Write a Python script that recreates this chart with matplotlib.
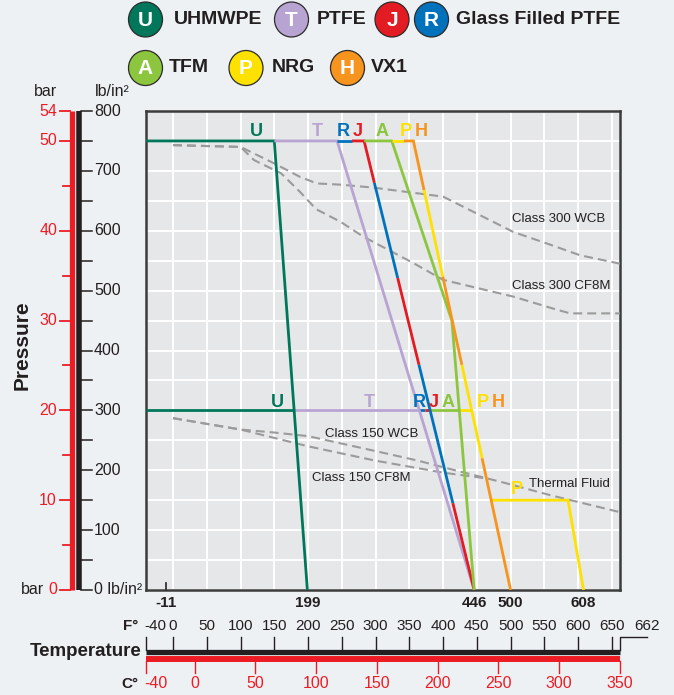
import numpy as np
import matplotlib
matplotlib.use('Agg')
import matplotlib.pyplot as plt
import matplotlib.transforms as mtransforms
from matplotlib.patches import Ellipse

plt.rcParams['font.family'] = ['Liberation Sans', 'DejaVu Sans']

# colours
c_U = '#00775a'
c_T = '#b8a4d2'
c_J = '#e31b23'
c_R = '#0072bc'
c_A = '#8cc63f'
c_P = '#ffe100'
c_H = '#f7941d'
grey = '#9b9b9b'
ink = '#231f20'
red = '#ed1c24'

# seat ratings, deg F / psi  (start, knee, ..., zero pressure)
U_F = [-40, 150, 199];       U_P = [750, 750, 0]
T_F = [150, 243, 446];       T_P = [750, 750, 0]
RJ_F = [243, 283, 446];      RJ_P = [750, 750, 0]
A_F = [283, 324, 413, 446];  A_P = [750, 750, 450, 0]
PH_F = [324, 356, 500];      PH_P = [750, 750, 0]
Pth_F = [471, 585, 608];     Pth_P = [150, 150, 0]   # NRG thermal fluid
low_psi = 300                                       # class 150 seat level

# colour changes on the shared R/J and P/H lines
RJ_fcut = 265; RJ_pcuts = [680, 521, 376, 145]
PH_fcut = 342; PH_pcuts = [668, 523, 376, 220]

# body ratings (dashed)
c300_wcb_F = [0, 100, 149, 188, 213, 248, 297, 400, 504, 553, 603, 662]
c300_wcb_P = [743, 740, 713, 690, 679, 677, 672, 657, 598, 579, 559, 545]
c300_cf8m_F = [0, 100, 120, 160, 188, 212, 248, 282, 356, 400, 504, 563, 588, 662]
c300_cf8m_P = [743, 740, 718, 696, 665, 636, 615, 590, 546, 518, 490, 470, 462, 462]
c150_wcb_F = [0, 100, 150, 200, 300, 363, 400, 491, 560, 662]
c150_wcb_P = [287, 268, 263, 257, 232, 216, 205, 179, 158, 130]
c150_cf8m_F = [0, 100, 150, 200, 300, 400, 460]
c150_cf8m_P = [287, 268, 254, 240, 216, 196, 187]

# scales
psi_ticks = list(range(0, 801, 50))
bar_ticks = list(range(0, 51, 5))
F_ticks = [-40] + list(range(0, 651, 50))
C_ticks = [-40] + list(range(0, 351, 50))
x_marks = [-11, 199, 446, 500, 608]

W, H = 674, 695
fig = plt.figure(figsize=(W / 100, H / 100), dpi=100)
fig.patch.set_facecolor('#edf1f4')

ax = fig.add_axes([146 / W, (H - 590) / H, 474 / W, 479 / H])
ax.set_facecolor('#e6e7e8')
ax.set_xlim(-40, 662)
ax.set_ylim(0, 800)
ax.set_xticks(range(0, 651, 50))
ax.set_yticks(psi_ticks)
ax.tick_params(which='major', length=0, labelbottom=False, labelleft=False)
ax.grid(which='major', color='white', lw=1.4)
ax.set_axisbelow(True)
for s in ax.spines.values():
    s.set_color('#3c3c3c')
    s.set_linewidth(1.8)

LW = 2.0
kw = dict(lw=LW, solid_capstyle='butt', solid_joinstyle='miter', zorder=4)

# dashed body ratings
dkw = dict(color=grey, lw=1.5, ls=(0, (4.3, 2.4)), zorder=3)
ax.plot(c300_wcb_F, c300_wcb_P, **dkw)
ax.plot(c300_cf8m_F, c300_cf8m_P, **dkw)
ax.plot(c150_wcb_F, c150_wcb_P, **dkw)
ax.plot(c150_cf8m_F, c150_cf8m_P, **dkw)


def cross(F, P, p):
    # temperature where the falling leg of a rating line meets pressure p
    return np.interp(p, P[1:][::-1], F[1:][::-1])


def two_tone(F, P, f_cut, p_cuts, c1, c2):
    start, knee, end = F
    x_at = lambda p: np.interp(p, [0, P[1]], [end, knee])
    ax.plot([start, f_cut], [P[0], P[0]], color=c1, **kw)
    levels = [P[1]] + p_cuts + [0]
    cols = [c2, c1]
    for i in range(len(levels) - 1):
        xs = [x_at(levels[i]), x_at(levels[i + 1])]
        ys = [levels[i], levels[i + 1]]
        if i == 0:
            xs = [f_cut] + xs
            ys = [P[0]] + ys
        ax.plot(xs, ys, color=cols[i % 2], **kw)


# class 150 seat level (300 psi) horizontal pieces
xU = cross(U_F, U_P, low_psi)
xT = cross(T_F, T_P, low_psi)
xRJ = cross(RJ_F, RJ_P, low_psi)
xA = cross(A_F, A_P, low_psi)
xPH = cross(PH_F, PH_P, low_psi)
xmid = (xT + xRJ) / 2
for a, b, c in [(-40, xU, c_U), (xU, xT, c_T), (xT, xmid, c_R), (xmid, xRJ, c_J),
                (xRJ, xA, c_A), (xA, xPH, c_P)]:
    ax.plot([a, b], [low_psi, low_psi], color=c, **kw)

ax.plot(U_F, U_P, color=c_U, **kw)
ax.plot(T_F, T_P, color=c_T, **kw)
two_tone(RJ_F, RJ_P, RJ_fcut, RJ_pcuts, c_R, c_J)
ax.plot(A_F, A_P, color=c_A, **kw)
ax.plot(Pth_F, Pth_P, color=c_P, **kw)
two_tone(PH_F, PH_P, PH_fcut, PH_pcuts, c_P, c_H)

# material letters
lk = dict(fontsize=13, fontweight='bold', ha='center', va='center', zorder=5)
for x, t, c in [(124, 'U', c_U), (213, 'T', c_T), (252, 'R', c_R), (274, 'J', c_J),
                (310, 'A', c_A), (345, 'P', c_P), (367, 'H', c_H)]:
    ax.text(x, 766, t, color=c, **lk)
for x, t, c in [(155, 'U', c_U), (290, 'T', c_T), (365, 'R', c_R), (386, 'J', c_J),
                (408, 'A', c_A), (459, 'P', c_P), (481, 'H', c_H)]:
    ax.text(x, 313, t, color=c, **lk)
ax.text(509, 168, 'P', color=c_P, **lk)

tk = dict(fontsize=9.5, color=ink, ha='left', va='center', zorder=5)
ax.text(502, 620, 'Class 300 WCB', **tk)
ax.text(502, 508, 'Class 300 CF8M', **tk)
ax.text(225, 260, 'Class 150 WCB', **tk)
ax.text(206, 187, 'Class 150 CF8M', **tk)
ax.text(527, 177, 'Thermal Fluid', **tk)

# overlay in pixel coordinates for scales and legend
ov = fig.add_axes([0, 0, 1, 1])
ov.set_xlim(0, W)
ov.set_ylim(H, 0)
ov.axis('off')
ty = mtransforms.blended_transform_factory(ov.transData, ax.transData)
tx = mtransforms.blended_transform_factory(ax.transData, ov.transData)

# marked temperatures under the chart
ov.plot([x_marks[0], x_marks[0]], [583, 590], transform=tx, color='#333333', lw=1.3)
for f in x_marks:
    ov.text(f, 603, str(f), transform=tx, fontsize=11, fontweight='bold', color=ink,
            ha='center', va='center')

# pressure scales
ov.plot([71.5, 71.5], [0, 800], transform=ty, color=red, lw=3.8, solid_capstyle='butt')
ov.plot([79, 79], [0, 800], transform=ty, color=ink, lw=4, solid_capstyle='butt')
for p in psi_ticks:
    ov.plot([81, 91.5], [p, p], transform=ty, color=ink, lw=1.1)
    if p % 100 == 0 and p > 0:
        ov.text(94, p, str(p), transform=ty, fontsize=11.5, color=ink, ha='left', va='center')
ov.text(94, 0, '0 lb/in²', transform=ty, fontsize=11.5, color=ink, ha='left', va='center')
for b in bar_ticks:
    x0 = 60 if b % 10 == 0 else 63
    ov.plot([x0, 70], [b * 15, b * 15], transform=ty, color=red, lw=1.3)
    if b % 10 == 0:
        ov.text(57, b * 15, str(b), transform=ty, fontsize=11.5, color=red, ha='right', va='center')
ov.plot([60, 70], [800, 800], transform=ty, color=red, lw=1.3)
ov.text(57, 800, '54', transform=ty, fontsize=11.5, color=red, ha='right', va='center')
ov.text(44, 0, 'bar', transform=ty, fontsize=11.5, color=ink, ha='right', va='center')
ov.text(45, 91, 'bar', fontsize=11.5, color=ink, ha='center', va='center')
ov.text(95, 91, 'lb/in²', fontsize=11.5, color=ink, ha='left', va='center')
ov.text(22, 345, 'Pressure', fontsize=15, fontweight='bold', color=ink, rotation=90,
        ha='center', va='center')

# temperature scales
ov.plot([-40, 662], [651.7, 651.7], transform=tx, color=ink, lw=3.8, solid_capstyle='butt')
ov.plot([-40, 662], [658.7, 658.7], transform=tx, color=red, lw=4.3, solid_capstyle='butt')
for f in F_ticks:
    ov.plot([f, f], [637, 650], transform=tx, color=ink, lw=1)
    ov.text(f if f > -40 else -43, 626.5, str(f), transform=tx, fontsize=11, color=ink,
            ha='center' if f > -40 else 'left', va='center')
ov.plot([662, 662, 702], [650, 637, 637], transform=tx, color=ink, lw=1)
ov.text(702, 626.5, '662', transform=tx, fontsize=11, color=ink, ha='center', va='center')
for c in C_ticks:
    f = c * 9 / 5 + 32
    ov.plot([f, f], [661, 673], transform=tx, color=red, lw=1)
    ov.text(f if c > -40 else -43, 684, str(c), transform=tx, fontsize=11.5, color=red,
            ha='center' if c > -40 else 'left', va='center')
ov.text(138, 626.5, 'F°', fontsize=11, fontweight='bold', color=ink, ha='right', va='center')
ov.text(138, 684, 'C°', fontsize=11, fontweight='bold', color=ink, ha='right', va='center')
ov.text(142, 652, 'Temperature', fontsize=13.5, fontweight='bold', color=ink, ha='right', va='center')

# legend
badges = [(145.5, 19.5, 'U', c_U), (291.5, 19.5, 'T', c_T), (392, 19.5, 'J', c_J),
          (431.5, 19.5, 'R', c_R), (145.5, 68, 'A', c_A), (246, 68, 'P', c_P),
          (347.5, 68, 'H', c_H)]
for x, y, t, c in badges:
    ov.add_patch(Ellipse((x, y), 34, 35, facecolor=c, edgecolor='#2b2b2b', lw=0.9))
    ov.text(x, y + 0.5, t, fontsize=15, fontweight='bold', color='white', ha='center', va='center')
names = [(174, 19.5, 'UHMWPE'), (317, 19.5, 'PTFE'), (456, 19.5, 'Glass Filled PTFE'),
         (168.5, 68, 'TFM'), (272, 68, 'NRG'), (370.5, 68, 'VX1')]
for x, y, t in names:
    ov.text(x, y, t, fontsize=14, fontweight='bold', color=ink, ha='left', va='center')

fig.savefig('out.png', dpi=100, facecolor=fig.get_facecolor())
